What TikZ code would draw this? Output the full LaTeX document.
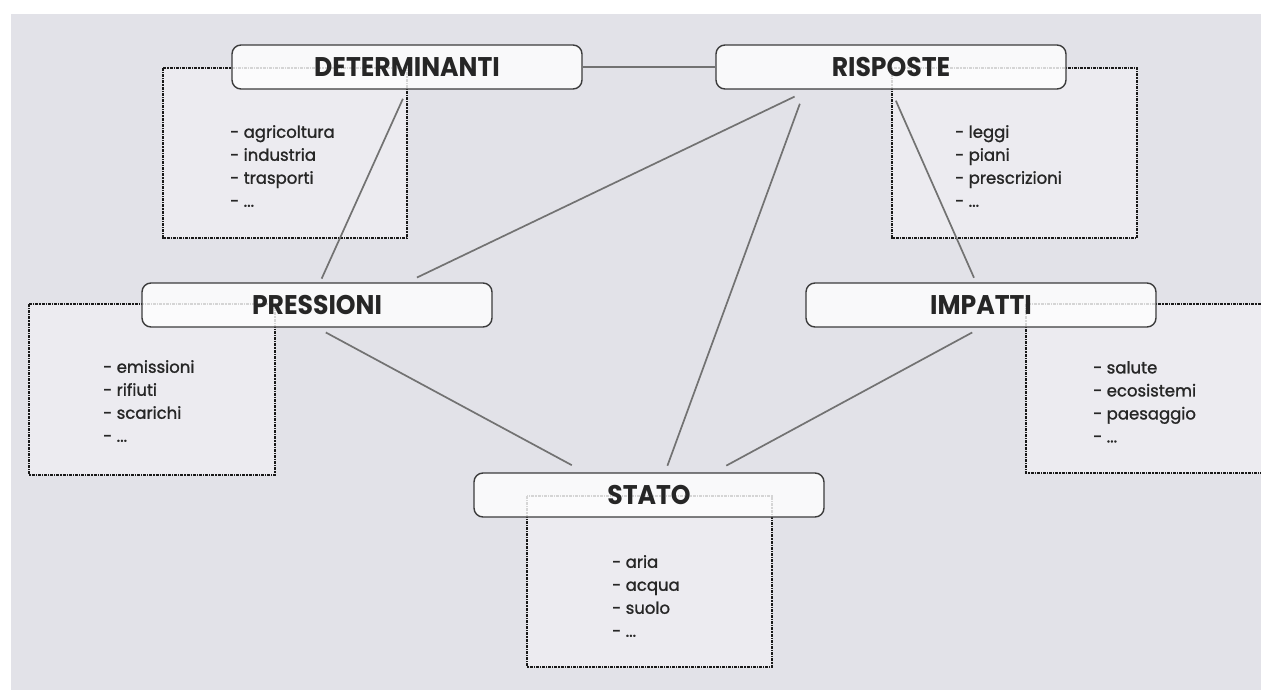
\documentclass[tikz,border=0pt]{standalone}
\usepackage{fontspec}
\setmainfont{Poppins}
\newfontfamily\headfont{Poppins}[FakeStretch=0.93]
\newfontfamily\itemfont{Poppins}[FakeBold=1.3]
\usetikzlibrary{positioning}

\definecolor{bggray}{HTML}{E2E2E8}
\definecolor{boxfill}{HTML}{ECEBF0}
\definecolor{linkgray}{HTML}{727272}
\definecolor{framegray}{HTML}{3C3C3C}

\begin{document}
\begin{tikzpicture}[x=1pt,y=-1pt,
  keybox/.style={draw=framegray, line width=1.4pt, rounded corners=9pt, fill=white, fill opacity=0.82, text opacity=1,
    minimum width=350pt, minimum height=44pt, inner sep=0pt, text=black!85,
    font=\headfont\bfseries\fontsize{27}{30}\selectfont},
  listbox/.style={draw=black!90, line width=1.2pt, densely dash dot, fill=boxfill},
  itemlist/.style={anchor=north west, align=left, inner sep=0pt, text=black!85,
    font=\itemfont\fontsize{16.5}{23}\selectfont},
  link/.style={draw=linkgray, line width=1.7pt}]
\useasboundingbox (0,0) rectangle (1261,690);
\clip (0,0) rectangle (1261,690);
\fill[white] (0,0) rectangle (1261,690);
\fill[bggray] (11,14) rectangle (1261,690);

\draw[listbox] (163,68) rectangle (407,238);
\draw[listbox] (892,68) rectangle (1137,238);
\draw[listbox] (29,304) rectangle (275,475);
\draw[listbox] (1026,304) rectangle (1275,473);
\draw[listbox] (527,496) rectangle (772,667);

\node[itemlist] (detlist) at (230,125) {- agricoltura\\- industria\\- trasporti\\- ...};
\node[itemlist] (rislist) at (955,125) {- leggi\\- piani\\- prescrizioni\\- ...};
\node[itemlist] (prelist) at (103,360) {- emissioni\\- rifiuti\\- scarichi\\- ...};
\node[itemlist] (implist) at (1093,361) {- salute\\- ecosistemi\\- paesaggio\\- ...};
\node[itemlist] (stalist) at (612,555) {- aria\\- acqua\\- suolo\\- ...};

\node[keybox] (det) at (407,67) {DETERMINANTI};
\node[keybox] (ris) at (891,67) {RISPOSTE};
\node[keybox] (pre) at (317,305) {PRESSIONI};
\node[keybox] (imp) at (981,305) {IMPATTI};
\node[keybox] (sta) at (649,495) {STATO};

\draw[link] (det.east) -- (ris.west);
\draw[link, shorten <=10pt, shorten >=4pt] (det.south) -- ([xshift=3pt]pre.north);
\draw[link, shorten <=16pt, shorten >=11pt] ([xshift=-82pt]ris.south) -- ([xshift=90pt]pre.north);
\draw[link, shorten <=15pt, shorten >=7pt] ([xshift=-86pt]ris.south) -- ([xshift=16pt]sta.north);
\draw[link, shorten <=12pt, shorten >=5pt] (ris.south) -- ([xshift=-5pt]imp.north);
\draw[link, shorten <=10pt, shorten >=15pt] (pre.south) -- ([xshift=-64pt]sta.north);
\draw[link, shorten <=10pt, shorten >=14pt] (imp.south) -- ([xshift=65pt]sta.north);
\end{tikzpicture}
\end{document}
